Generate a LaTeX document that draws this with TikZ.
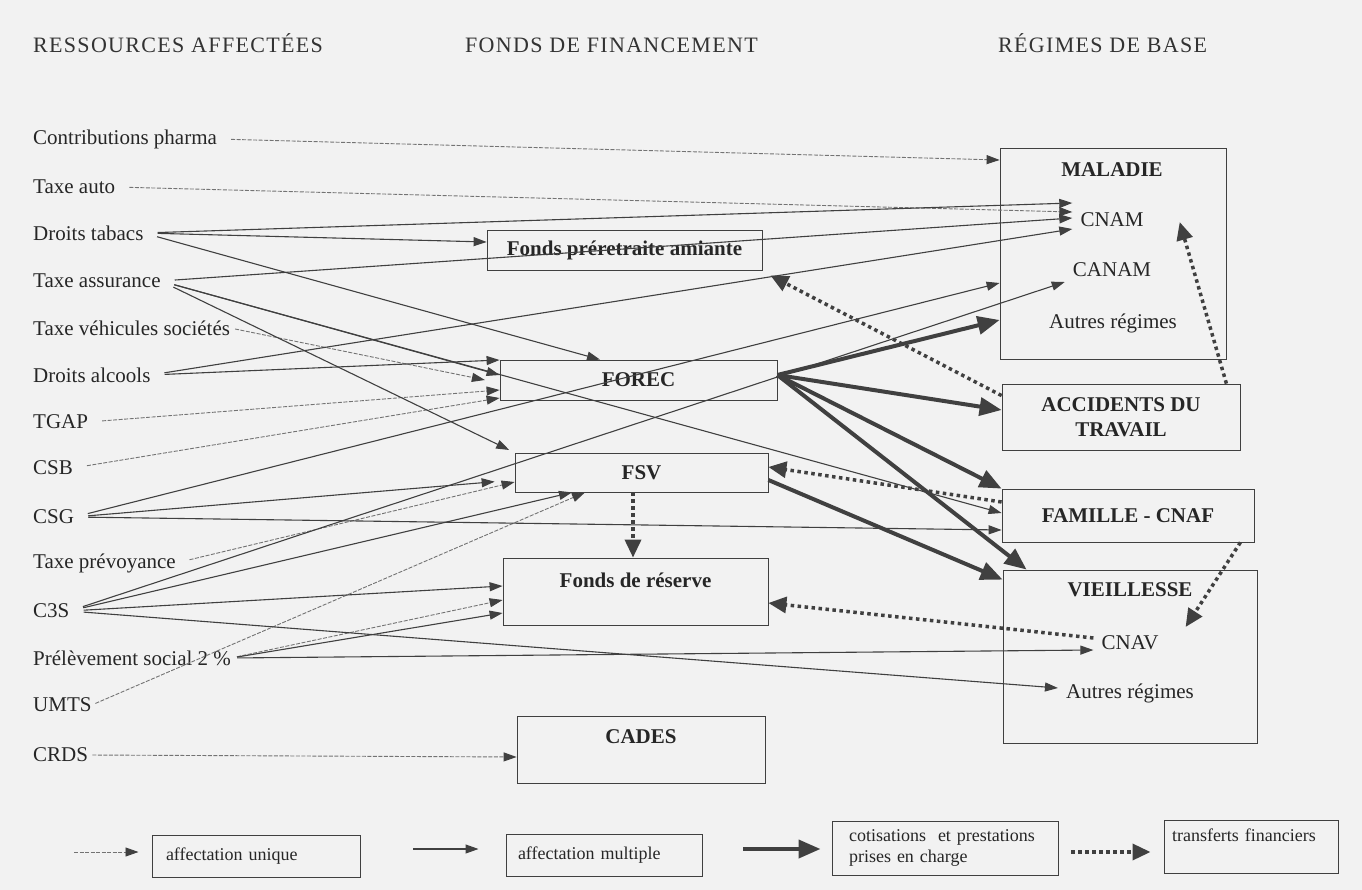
\documentclass[tikz,border=0pt]{standalone}
\usepackage{fontspec}
\setmainfont{Liberation Serif}
\newfontfamily\headfont[LetterSpace=6]{Liberation Serif}
\usetikzlibrary{arrows.meta,calc}
\tikzset{
	>={Triangle[length=13pt,width=9pt]},
	titre/.style={anchor=base west, inner sep=0pt, text=black!80,
		font=\headfont\fontsize{22}{26}\selectfont},
	ressource/.style={anchor=west, inner sep=0pt, text=black!85,
		font=\fontsize{21}{25}\selectfont},
	fonds/.style={
		rectangle,
		% fill=black!10,
		draw=black!75, thick,
		text=black!85,
		font=\bfseries\fontsize{21}{25}\selectfont},
	regime/.style={
		rectangle,
		draw=black!75, thick,
		align=center,
		text=black!85,
		font=\bfseries\fontsize{21}{25}\selectfont},
	nomreg/.style={text=black!85, font=\bfseries\fontsize{21}{25}\selectfont},
	poste/.style={inner xsep=8pt, inner ysep=2pt, text=black!85,
		font=\fontsize{21}{25}\selectfont},
	unique/.style={draw=black!55, line width=0.9pt, dash pattern=on 4pt off 1.5pt,
		-{Triangle[length=13pt,width=9pt,color=black!75]}, shorten <=14pt},
	multiple/.style={draw=black!75, line width=1.1pt, ->, shorten <=14pt},
	cotis/.style={draw=black!75, line width=4pt, -{Triangle[length=22pt,width=18pt]}},
	transfert/.style={draw=black!75, line width=3.5pt, dash pattern=on 3.5pt off 3.5pt,
		-{Triangle[length=18pt,width=16pt]}},
	legende/.style={draw=black!75, line width=1pt, align=left, text=black!85,
		font=\fontsize{18}{21}\selectfont},
}
\begin{document}
\begin{tikzpicture}[x=1pt,y=-1pt]
\fill[black!5] (0,0) rectangle (1362,890);

\node[titre] (hres) at (33,53) {RESSOURCES AFFECTÉES};
\node[titre] (hfin) at (465,53) {FONDS DE FINANCEMENT};
\node[titre] (hreg) at (998,53) {RÉGIMES DE BASE};

% ressources
\node[ressource] (pharma)  at (33,139) {Contributions pharma};
\node[ressource] (auto)    at (33,187) {Taxe auto};
\node[ressource] (tabacs)  at (33,233) {Droits tabacs};
\node[ressource] (assur)   at (33,281) {Taxe assurance};
\node[ressource] (vehic)   at (33,328) {Taxe véhicules sociétés};
\node[ressource] (alcools) at (33,375) {Droits alcools};
\node[ressource] (tgap)    at (33,422) {TGAP};
\node[ressource] (csb)     at (33,468) {CSB};
\node[ressource] (csg)     at (33,517) {CSG};
\node[ressource] (prev)    at (33,563) {Taxe prévoyance};
\node[ressource] (ccs)     at (33,611) {C3S};
\node[ressource] (prel)    at (33,658) {Prélèvement social 2~\%};
\node[ressource] (umts)    at (33,705) {UMTS};
\node[ressource] (crds)    at (33,755) {CRDS};

% fonds
\node[fonds, minimum width=275pt, minimum height=40pt] (fpa) at (624.5,250) {Fonds préretraite amiante};
\node[fonds, minimum width=277pt, minimum height=40pt] (forec) at (638.5,380) {FOREC};
\node[fonds, minimum width=253pt, minimum height=39pt] (fsv) at (641.5,472.5) {FSV};
\node[fonds, minimum width=265pt, minimum height=67pt] (fres) at (635.5,591.5) {};
\node[nomreg] (tres) at (635.5,580) {Fonds de réserve};
\node[fonds, minimum width=248pt, minimum height=67pt] (cades) at (641,749.5) {};
\node[nomreg] (tcades) at (641,737) {CADES};

% regimes
\node[regime, minimum width=226pt, minimum height=211pt] (maladie) at (1113,253.5) {};
\node[nomreg] (tmal) at (1112,170) {MALADIE};
\node[poste] (cnam) at (1112,220) {CNAM};
\node[poste] (canam) at (1112,270) {CANAM};
\node[poste] (autmal) at (1113,323) {Autres régimes};
\node[regime, minimum width=238pt, minimum height=66pt] (at) at (1121,417) {ACCIDENTS DU\\TRAVAIL};
\node[regime, minimum width=252pt, minimum height=53pt] (caf) at (1128,515.5) {FAMILLE - CNAF};
\node[regime, minimum width=254pt, minimum height=173pt] (vieil) at (1130,656.5) {};
\node[nomreg] (tvie) at (1130,590) {VIEILLESSE};
\node[poste] (cnav) at (1130,643) {CNAV};
\node[poste] (autvie) at (1130,693) {Autres régimes};

% affectation unique
\draw[unique] (pharma.east) -- ([yshift=93.5pt]maladie.west);
\draw[unique] (auto.east) -- ([yshift=8pt]cnam.west);
\draw[unique, shorten <=5pt, shorten >=15pt] (vehic.east) -- ([yshift=-3pt]forec.west);
\draw[unique] (tgap.east) -- ([yshift=-10pt]forec.west);
\draw[unique] (csb.east) -- ([yshift=-18pt]forec.west);
\draw[unique] (prev.east) -- ([yshift=-9.5pt]fsv.west);
\draw[unique, shorten <=4pt] (umts.east) -- ([xshift=-56.5pt]fsv.south);
\draw[unique, shorten <=6pt] (prel.east) -- ([yshift=-8.5pt]fres.west);
\draw[unique, shorten <=4pt] (crds.east) -- ([yshift=-7.5pt]cades.west);

% affectation multiple
\draw[multiple] (tabacs.east) -- ([yshift=17pt]cnam.west);
\draw[multiple] (tabacs.east) -- ([yshift=8pt]fpa.west);
\draw[multiple] (tabacs.east) -- ([xshift=-38.5pt]forec.north);
\draw[multiple] (assur.east) -- ([yshift=2pt]cnam.west);
\draw[multiple] (assur.east) -- ([yshift=5pt]forec.west);
\draw[multiple, shorten >=6pt] (assur.east) -- (fsv.north west);
\draw[multiple] (assur.east) -- ([yshift=2.5pt]caf.west);
\draw[multiple] (alcools.east) -- ([yshift=-9pt]cnam.west);
\draw[multiple] (alcools.east) -- ([yshift=20pt]forec.west);
\draw[multiple] (csg.east) -- ([yshift=-29.5pt]maladie.west);
\draw[multiple, shorten >=20pt] (csg.east) -- ([yshift=-7.5pt]fsv.west);
\draw[multiple] (csg.east) -- ([yshift=-14.5pt]caf.west);
\draw[multiple] (ccs.east) -- ([yshift=-12pt]canam.west);
\draw[multiple] (ccs.east) -- ([xshift=-69.5pt]fsv.south);
\draw[multiple] (ccs.east) -- ([yshift=5.5pt]fres.west);
\draw[multiple] (ccs.east) -- ([yshift=5pt]autvie.west);
\draw[multiple, shorten <=6pt] (prel.east) -- ([yshift=-21.5pt]fres.west);
\draw[multiple, shorten <=6pt] (prel.east) -- ([yshift=-7pt]cnav.west);

% cotisations et prestations
\draw[cotis] ([yshift=5pt]forec.east) -- ([yshift=-66.5pt]maladie.west);
\draw[cotis] ([yshift=5pt]forec.east) -- ([yshift=7pt]at.west);
\draw[cotis] ([yshift=5pt]forec.east) -- (caf.north west);
\draw[cotis] ([yshift=5pt]forec.east) -- ([xshift=24pt]vieil.north west);
\draw[cotis] ([yshift=-7.5pt]fsv.east) -- ([yshift=-10pt]vieil.north west);

% transferts financiers
\draw[transfert] ([yshift=-12pt]at.north west) -- ([xshift=8pt,yshift=-5pt]fpa.south east);
\draw[transfert] ([xshift=-14pt]at.north east) -- ([xshift=28pt,yshift=-2pt]cnam.east);
\draw[transfert] ([yshift=13.5pt]caf.west) -- ([yshift=5.5pt]fsv.east);
\draw[transfert] ([xshift=-14pt]caf.south east) -- ([xshift=19pt,yshift=16pt]cnav.east);
\draw[transfert] ([yshift=5pt]cnav.west) -- ([yshift=-11.5pt]fres.east);
\draw[transfert] ([xshift=-8.5pt]fsv.south) -- ([xshift=-2.5pt]fres.north);

% legende
\node[legende, minimum width=208pt, minimum height=42pt, text width=180pt] (legu) at (256,856) {affectation unique};
\node[legende, minimum width=196pt, minimum height=42pt, text width=172pt] (legm) at (604,855.5) {affectation multiple};
\node[legende, minimum width=226pt, minimum height=54pt, text width=192pt] (legc) at (945,848) {cotisations\ \ et prestations\\prises en charge};
\node[legende, minimum width=174pt, minimum height=53pt, text width=158pt] (legt) at (1251,846.5) {transferts financiers\\[2pt]\mbox{}};
\coordinate (lu) at (74,852);
\coordinate (lm) at (413,849);
\coordinate (lc) at (743,849);
\coordinate (lt) at (1071,852);
\draw[unique, shorten <=0pt] (lu) -- ([xshift=-13pt,yshift=4pt]legu.west);
\draw[multiple, shorten <=0pt] (lm) -- ([xshift=-27pt,yshift=6.5pt]legm.west);
\draw[cotis] (lc) -- ([xshift=-11pt,yshift=-1pt]legc.west);
\draw[transfert] (lt) -- ([xshift=-13pt,yshift=-5.5pt]legt.west);
\end{tikzpicture}
\end{document}
